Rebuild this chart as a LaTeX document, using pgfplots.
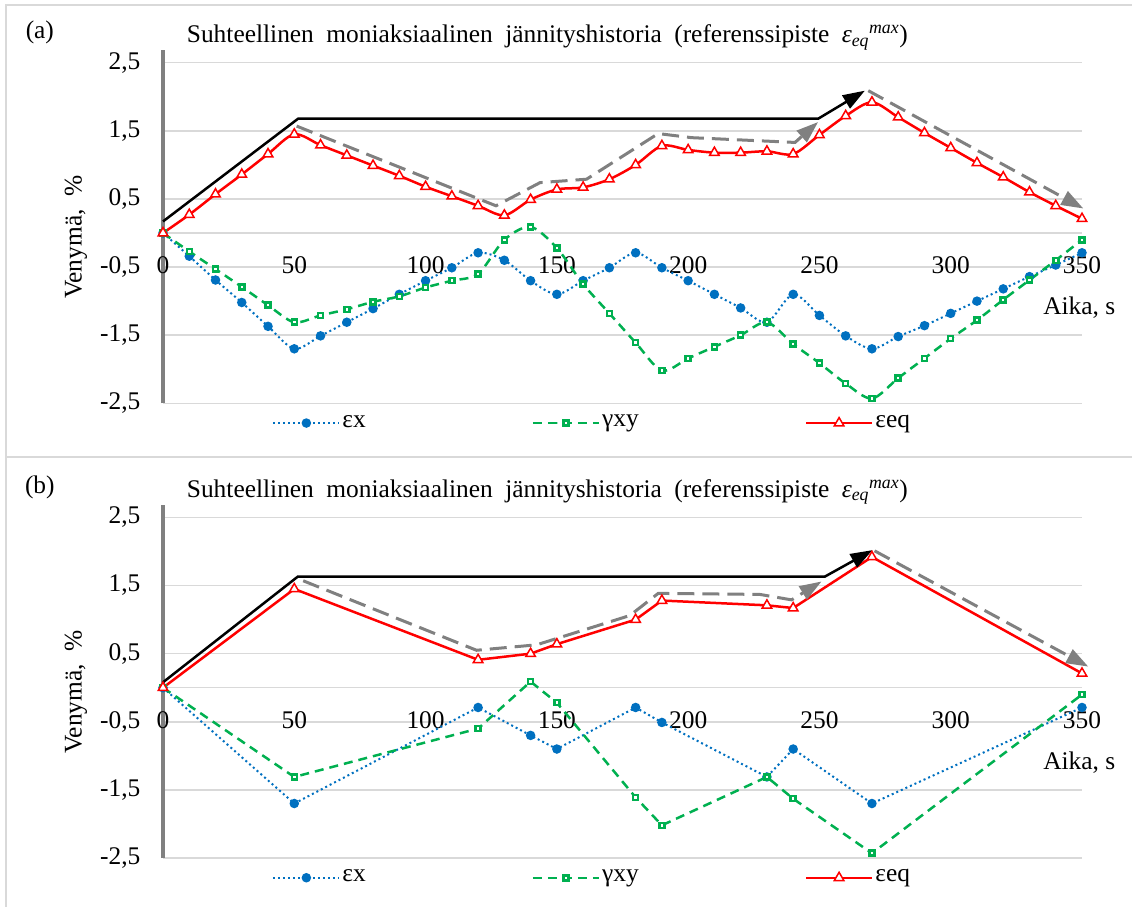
\documentclass[border=0pt]{standalone}
\usepackage{fontspec}
\setmainfont{Liberation Serif}
\usepackage{pgfplots}
\pgfplotsset{compat=1.18}
\usetikzlibrary{arrows.meta}

\definecolor{exblue}{HTML}{0070C0}
\definecolor{gxgreen}{HTML}{00B050}
\definecolor{eqred}{HTML}{FF0000}
\definecolor{arrgray}{HTML}{808080}
\definecolor{gridc}{HTML}{D9D9D9}
\definecolor{axgray}{HTML}{808080}

\newcommand{\charttitle}{{\spaceskip=12.4bp Suhteellinen moniaksiaalinen jännityshistoria (referenssipiste \textit{ε}\textsubscript{\textit{eq}}\textsuperscript{\textit{max}})}}

\pgfplotsset{
  panel/.style={
    scale only axis, width=919bp, height=352.8bp,
    xmin=0, xmax=350, ymin=-2.5, ymax=2.68,
    clip=false,
    axis x line=middle, axis y line=left,
    x axis line style={draw=gridc, line width=1.5bp, -},
    y axis line style={draw=axgray, line width=4bp, -},
    xtick={0,50,...,350},
    ytick={-2.5,-1.5,-0.5,0.5,1.5,2.5},
    yticklabels={{-2,5},{-1,5},{-0,5},{0,5},{1,5},{2,5}},
    ymajorgrids, major grid style={draw=gridc, line width=1.5bp},
    major tick length=0pt,
    hide obscured x ticks=false,
    /pgf/number format/assume math mode=true,
    x tick label style={yshift=-15bp},
    y tick label style={xshift=-14bp},
    xlabel={Aika, s},
    x label style={at={(axis description cs:0.997,0.27)}, anchor=center},
    ylabel={Venymä,\ \ \%},
    y label style={at={(axis description cs:-0.0947,0.471)}, anchor=center},
    title={\charttitle},
    title style={at={(axis description cs:0.0258,1.0057)}, anchor=base west, inner sep=0pt},
    legend columns=3,
    legend style={draw=none, fill=none, at={(axis description cs:0.467,-0.056)}, anchor=center,
      /tikz/every even column/.append style={column sep=164bp},
      cells={anchor=west}},
    legend image code/.code={\draw[mark repeat=2,mark phase=2,#1] plot coordinates {(0bp,0bp) (33bp,0bp) (66bp,0bp)};},
  },
  ex/.style={exblue, line width=2bp, dash pattern=on 2bp off 3bp, mark=*, mark size=3.7bp, mark options={solid, fill=exblue}},
  gx/.style={gxgreen, line width=2.5bp, dash pattern=on 9bp off 6bp, mark=square*, mark size=2.5bp, mark options={solid, fill=white, line width=2.5bp}},
  eq/.style={eqred, line width=2.5bp, mark=triangle*, mark size=5.5bp, mark options={solid, fill=white, line width=1.5bp}},
  blk/.style={black, line width=2.5bp, -{Triangle[length=22bp,width=15bp]}, forget plot},
  gry/.style={arrgray, line width=3bp, dash pattern=on 17bp off 8bp, -{Triangle[length=22bp,width=15bp]}, forget plot},
}

\begin{document}
\fontsize{25.5}{30}\selectfont
\begin{tikzpicture}
\path[use as bounding box] (0,0) rectangle (1132bp,907bp);
\draw[gridc, line width=1.5bp] (6bp,450bp) rectangle (1150bp,902bp);
\draw[gridc, line width=1.5bp] (6bp,-10bp) rectangle (1150bp,450bp);

% (a) every 10 s, smoothed
\begin{axis}[panel, at={(163bp,503.7bp)}, anchor=south west]
\addplot[ex, smooth, tension=0.5] coordinates {
(0,0) (10,-0.34) (20,-0.69) (30,-1.02) (40,-1.37) (50,-1.70) (60,-1.51) (70,-1.31) (80,-1.11) (90,-0.90)
(100,-0.70) (110,-0.51) (120,-0.29) (130,-0.40) (140,-0.70) (150,-0.90) (160,-0.70) (170,-0.51) (180,-0.29)
(190,-0.51) (200,-0.70) (210,-0.90) (220,-1.10) (230,-1.31) (240,-0.90) (250,-1.21) (260,-1.51) (270,-1.70)
(280,-1.52) (290,-1.36) (300,-1.18) (310,-1.00) (320,-0.82) (330,-0.64) (340,-0.47) (350,-0.29)};
\addlegendentry{εx}
\addplot[gx, smooth, tension=0.5] coordinates {
(0,0) (10,-0.27) (20,-0.53) (30,-0.79) (40,-1.06) (50,-1.31) (60,-1.21) (70,-1.12) (80,-1.01) (90,-0.93)
(100,-0.80) (110,-0.70) (120,-0.60) (130,-0.10) (140,0.09) (150,-0.22) (160,-0.75) (170,-1.18) (180,-1.61)
(190,-2.02) (200,-1.84) (210,-1.67) (220,-1.50) (230,-1.31) (240,-1.63) (250,-1.91) (260,-2.21) (270,-2.43)
(280,-2.13) (290,-1.84) (300,-1.55) (310,-1.28) (320,-0.98) (330,-0.69) (340,-0.40) (350,-0.10)};
\addlegendentry{γxy}
\addplot[eq, smooth, tension=0.5] coordinates {
(0,0) (10,0.27) (20,0.57) (30,0.86) (40,1.16) (50,1.45) (60,1.29) (70,1.14) (80,0.99) (90,0.84)
(100,0.68) (110,0.54) (120,0.40) (130,0.26) (140,0.49) (150,0.64) (160,0.67) (170,0.79) (180,1.00)
(190,1.28) (200,1.22) (210,1.18) (220,1.18) (230,1.20) (240,1.16) (250,1.44) (260,1.72) (270,1.92)
(280,1.70) (290,1.47) (300,1.25) (310,1.03) (320,0.82) (330,0.60) (340,0.40) (350,0.21)};
\addlegendentry{εeq}
\addplot[blk] coordinates {(0,0.17) (51.5,1.68) (249.6,1.68) (267.3,2.09)};
\addplot[gry] coordinates {(50.9,1.57) (126.8,0.40) (143.6,0.74) (161.3,0.79) (188.6,1.46) (201.3,1.40) (240.7,1.33) (249.5,1.63)};
\addplot[gry] coordinates {(268.6,2.09) (350.5,0.36)};
\node[anchor=base] at (axis description cs:-0.134,1.0326) {(a)};
\end{axis}

% (b) turning points only
\begin{axis}[panel, at={(163bp,49bp)}, anchor=south west]
\addplot[ex] coordinates {
(0,0) (50,-1.70) (120,-0.29) (140,-0.70) (150,-0.90) (180,-0.29) (190,-0.51) (230,-1.31) (240,-0.90) (270,-1.70) (350,-0.29)};
\addlegendentry{εx}
\addplot[gx] coordinates {
(0,0) (50,-1.31) (120,-0.60) (140,0.09) (150,-0.22) (180,-1.61) (190,-2.02) (230,-1.31) (240,-1.63) (270,-2.43) (350,-0.10)};
\addlegendentry{γxy}
\addplot[eq] coordinates {
(0,0) (50,1.45) (120,0.41) (140,0.50) (150,0.64) (180,1.00) (190,1.28) (230,1.21) (240,1.17) (270,1.92) (350,0.21)};
\addlegendentry{εeq}
\addplot[blk] coordinates {(0,0.08) (51.3,1.63) (252,1.63) (270.2,2.02)};
\addplot[gry] coordinates {(53.4,1.57) (119.4,0.55) (142.3,0.63) (177.8,1.06) (188.6,1.385) (227.3,1.37) (239.4,1.29) (250.8,1.56)};
\addplot[gry] coordinates {(271,2.01) (352.4,0.31)};
\node[anchor=base] at (axis description cs:-0.134,1.0326) {(b)};
\end{axis}
\end{tikzpicture}
\end{document}
